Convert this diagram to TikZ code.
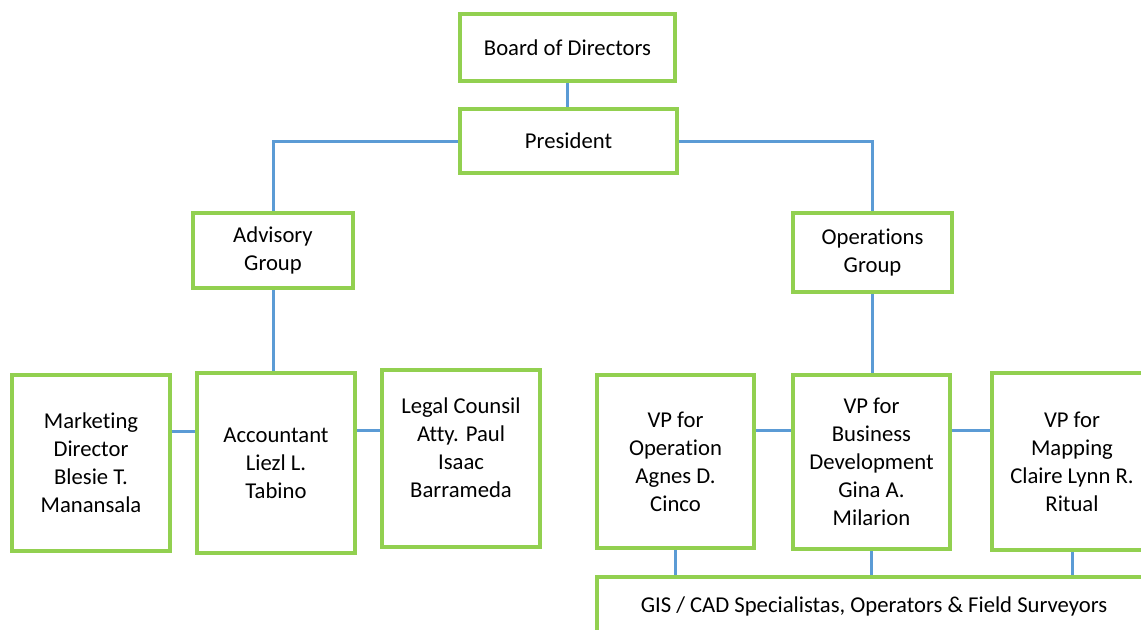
\documentclass[tikz,border=0pt]{standalone}
\usepackage{fontspec}
\setmainfont{Carlito}[RawFeature=-liga]
\usetikzlibrary{calc}
\definecolor{boxgreen}{HTML}{92D050}
\definecolor{lineblue}{HTML}{5B9BD5}
\tikzset{
  orgfont/.style={font=\fontsize{17}{21}\selectfont},
  orgbox/.style={draw=boxgreen, line width=3pt, fill=white, align=center,
    orgfont, inner sep=2pt},
  link/.style={draw=lineblue, line width=2.25pt}
}
\begin{document}
\begin{tikzpicture}[x=0.75pt,y=-0.75pt]
\useasboundingbox (0,0) rectangle (1141,629);
\clip (0,0) rectangle (1141,629);
\node[orgbox, minimum width=161.25pt, minimum height=50.25pt] (board) at (567.5,47.5) {Board of Directors};
\node[orgbox, minimum width=162.75pt, minimum height=48pt] (pres) at (568.5,141) {President};
\node[orgbox, minimum width=120pt, minimum height=56.25pt] (adv) at (273,250.5) {Advisory\\Group};
\node[orgbox, minimum width=119.25pt, minimum height=59.25pt] (ops) at (872.5,252.5) {Operations\\Group};
\node[orgbox, minimum width=118.5pt, minimum height=132pt] (mkt) at (91,463) {Marketing\\Director\\Blesie T.\\Manansala};
\node[orgbox, minimum width=118.5pt, minimum height=135pt] (acc) at (276,463) {Accountant\\Liezl L.\\Tabino};
\node[orgbox, minimum width=118.5pt, minimum height=132.75pt] (legal) at (461,458.5) {};
\node[align=center, orgfont] (legaltext) at (461,448) {Legal Counsil\\Atty. Paul\\Isaac\\Barrameda};
\node[orgbox, minimum width=117.75pt, minimum height=129.75pt] (vpop) at (675.5,461.5) {VP for\\Operation\\Agnes D.\\Cinco};
\node[orgbox, minimum width=117.75pt, minimum height=130.5pt] (vpbus) at (871.5,462) {VP for\\Business\\Development\\Gina A.\\Milarion};
\node[orgbox, minimum width=120pt, minimum height=132.75pt] (vpmap) at (1072,461.5) {VP for\\Mapping\\Claire Lynn R.\\Ritual};
\node[orgbox, minimum width=415.5pt, minimum height=43.5pt] (staff) at (874,606) {GIS / CAD Specialistas, Operators \& Field Surveyors};
% connectors
\draw[link] (board.south) -- (board.south |- pres.north);
\draw[link] (pres.west) -| (adv.north);
\draw[link] (pres.east) -| (ops.north);
\draw[link] (adv.south) -- (adv.south |- acc.north);
\draw[link] (mkt.east |- 0,431) -- (acc.west |- 0,431);
\draw[link] (acc.east |- 0,430) -- (legal.west |- 0,430);
\draw[link] (ops.south) -- (ops.south |- vpbus.north);
\draw[link] (vpop.east |- 0,430) -- (vpbus.west |- 0,430);
\draw[link] (vpbus.east |- 0,430) -- (vpmap.west |- 0,430);
\draw[link] (vpop.south) -- (vpop.south |- staff.north);
\draw[link] (vpbus.south) -- (vpbus.south |- staff.north);
\draw[link] (vpmap.south) -- (vpmap.south |- staff.north);
\end{tikzpicture}
\end{document}
